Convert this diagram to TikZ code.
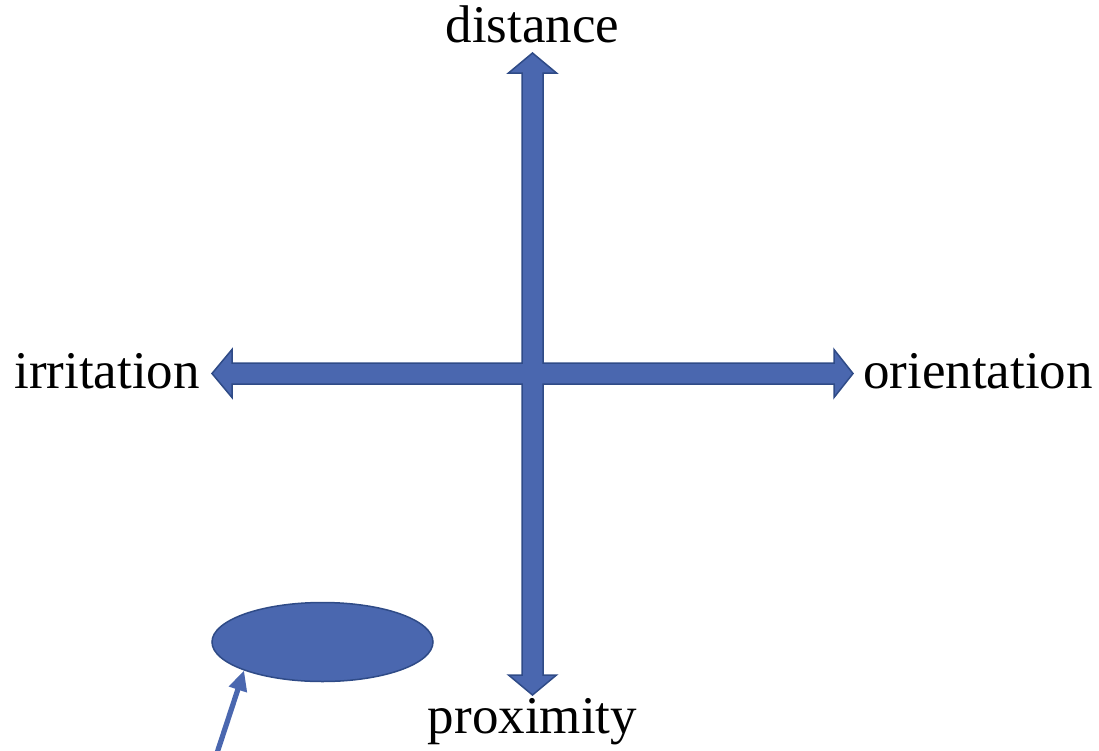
\documentclass[tikz,border=0pt]{standalone}
\usepackage{fontspec}
\setmainfont{Liberation Serif}
\usetikzlibrary{shapes.geometric,arrows.meta}
\definecolor{axisfill}{RGB}{74,103,175}
\definecolor{axisline}{RGB}{47,75,135}
\tikzset{
  crossshape/.style={fill=axisfill,draw=axisline,line width=1.5pt,line join=miter},
  axlabel/.style={inner sep=0pt,font=\fontsize{53}{60}\selectfont},
  blob/.style={shape=ellipse,fill=axisfill,draw=axisline,line width=1.5pt,minimum width=221pt,minimum height=79pt,inner sep=0pt},
  pointer/.style={draw=axisfill,line width=5.2pt,-{Triangle[width=18pt,length=20pt]}}
}
\begin{document}
\begin{tikzpicture}[x=1pt,y=-1pt]
\useasboundingbox (0,0) rectangle (1099,750);
% cross with four arrowheads
\draw[crossshape] (532.5,53) -- (556.5,73) -- (543,73) -- (543,363) -- (834,363) -- (834,349.5)
  -- (853,373.5) -- (834,397.5) -- (834,384) -- (543,384) -- (543,675) -- (556.5,675)
  -- (532.5,695) -- (508.5,675) -- (522,675) -- (522,384) -- (232,384) -- (232,397.5)
  -- (212,373.5) -- (232,349.5) -- (232,363) -- (522,363) -- (522,73) -- (508.5,73) -- cycle;
% labels
\node[axlabel,anchor=base] (dist) at (532.5,42) {distance};
\node[axlabel,anchor=base east] (irr) at (200,388) {irritation};
\node[axlabel,anchor=base west] (ori) at (863,388) {orientation};
\node[axlabel,anchor=base] (prox) at (532.5,733) {proximity};
% ellipse and pointer
\node[blob] (e) at (322.5,642) {};
\coordinate (s) at (217,753);
\draw[pointer] (s) -- (e.200);
\end{tikzpicture}
\end{document}
